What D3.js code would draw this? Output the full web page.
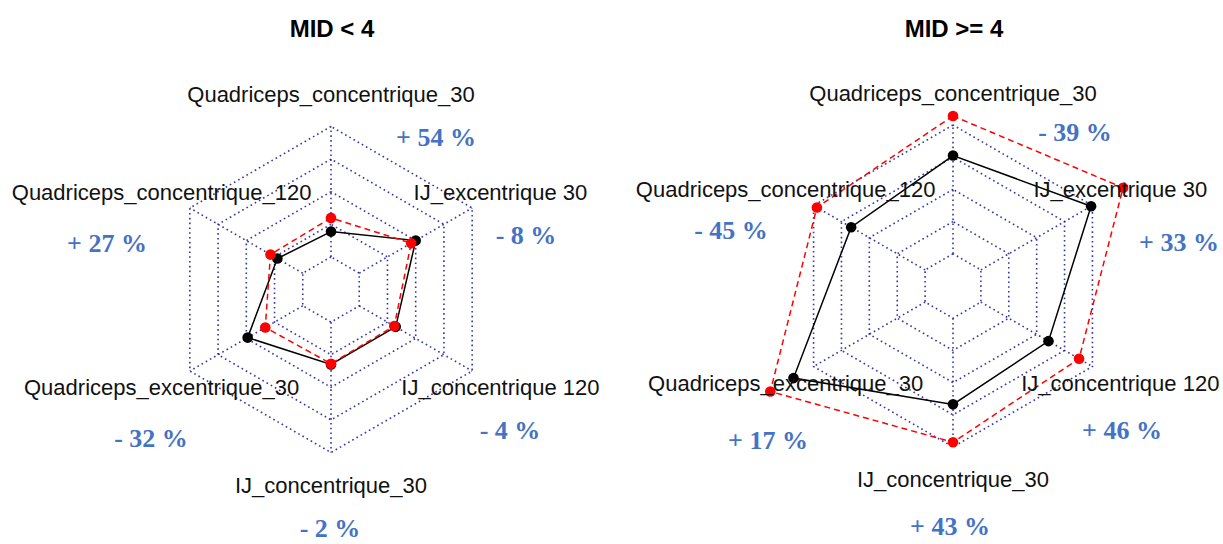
<!DOCTYPE html>
<html>
<head>
<meta charset="utf-8">
<script src="https://cdn.jsdelivr.net/npm/d3@7"></script>
<style>
  html, body { margin: 0; padding: 0; background: #ffffff; }
  svg { display: block; }
</style>
</head>
<body>
<svg id="chart" width="1223" height="544"></svg>
<script>
// ---------------- DATA ----------------
const axisNames = [
  "Quadriceps_concentrique_30",
  "Quadriceps_concentrique_120",
  "Quadriceps_excentrique_30",
  "IJ_concentrique_30",
  "IJ_concentrique 120",
  "IJ_excentrique 30"
];
const panelTitles = ["MID < 4", "MID >= 4"];

// values on the grid scale: 0 = inner ring, 100 = outer ring
const leftBlack  = [19.4, 22.5, 48.8, 32.5, 32.3, 50.0];
const leftRed    = [29.9, 28.6, 33.2, 31.9, 31.0, 46.0];
const rightBlack = [76.3, 66.3, 118.0, 66.9, 60.6, 98.8];
const rightRed   = [107.0, 97.0, 138.8, 96.3, 88.0, 127.5];

const leftPct  = ["+ 54 %", "+ 27 %", "- 32 %", "- 2 %", "- 4 %", "- 8 %"];
const rightPct = ["- 39 %", "- 45 %", "+ 17 %", "+ 43 %", "+ 46 %", "+ 33 %"];

// ---------------- LAYOUT ----------------
const panels = [
  { cx: 331, cy: 289.5, R: 163, titleX: 332, titleY: 28,
    black: leftBlack, red: leftRed, pct: leftPct,
    pctPos: [[436,137],[107,243],[151,438],[330,528],[510,430],[526,235]] },
  { cx: 953, cy: 286, R: 161, titleX: 954, titleY: 28,
    black: rightBlack, red: rightRed, pct: rightPct,
    pctPos: [[1075,132],[731,230],[768,440],[950,526],[1122,430],[1179,242]] }
];

const svg = d3.select("#chart");
const nAx = axisNames.length;
const angle = i => Math.PI / 2 + i * 2 * Math.PI / nAx;
const levels = [0, 25, 50, 75, 100];
const gridColor = "#20209a";

panels.forEach((p, pi) => {
  const g = svg.append("g");
  const r = d3.scaleLinear().domain([0, 100]).range([0.2 * p.R, p.R]);
  const pt = (v, i) => [p.cx + r(v) * Math.cos(angle(i)), p.cy - r(v) * Math.sin(angle(i))];

  // grid rings
  const ringLine = d3.line();
  levels.forEach(lv => {
    const pts = d3.range(nAx).map(i => pt(lv, i));
    pts.push(pts[0]);
    g.append("path")
      .attr("d", ringLine(pts))
      .attr("fill", "none")
      .attr("stroke", gridColor)
      .attr("stroke-opacity", 0.9)
      .attr("stroke-width", 1.6)
      .attr("stroke-dasharray", "1.6,3.2");
  });
  // axis spokes
  d3.range(nAx).forEach(i => {
    const a = pt(0, i), b = pt(100, i);
    g.append("line")
      .attr("x1", a[0]).attr("y1", a[1]).attr("x2", b[0]).attr("y2", b[1])
      .attr("stroke", gridColor)
      .attr("stroke-opacity", 0.9)
      .attr("stroke-width", 1.6)
      .attr("stroke-dasharray", "1.6,3.2");
  });

  // series
  const series = [
    { vals: p.black, color: "#000000", dash: null },
    { vals: p.red, color: "#ff0000", dash: "6,4" }
  ];
  const polyLine = d3.line().curve(d3.curveLinearClosed);
  series.forEach(s => {
    const pts = s.vals.map((v, i) => pt(v, i));
    g.append("path")
      .attr("d", polyLine(pts))
      .attr("fill", "none")
      .attr("stroke", s.color)
      .attr("stroke-width", 1.5)
      .attr("stroke-dasharray", s.dash);
    g.selectAll(null).data(pts).enter().append("circle")
      .attr("cx", d => d[0]).attr("cy", d => d[1])
      .attr("r", 5.3)
      .attr("fill", s.color);
  });

  // axis labels
  d3.range(nAx).forEach(i => {
    const lp = [p.cx + 1.2 * p.R * Math.cos(angle(i)), p.cy - 1.2 * p.R * Math.sin(angle(i))];
    g.append("text")
      .attr("x", lp[0]).attr("y", lp[1])
      .attr("dy", "0.36em")
      .attr("text-anchor", "middle")
      .attr("font-family", "'Liberation Sans', Arial, sans-serif")
      .attr("font-size", 22)
      .attr("fill", "#111111")
      .text(axisNames[i]);
  });

  // percentage annotations
  p.pct.forEach((t, i) => {
    g.append("text")
      .attr("x", p.pctPos[i][0]).attr("y", p.pctPos[i][1])
      .attr("dy", "0.35em")
      .attr("text-anchor", "middle")
      .attr("font-family", "'Liberation Serif', 'Times New Roman', serif")
      .attr("font-weight", "bold")
      .attr("font-size", 26)
      .attr("fill", "#4472c4")
      .text(t);
  });

  // title
  g.append("text")
    .attr("x", p.titleX).attr("y", p.titleY)
    .attr("dy", "0.36em")
    .attr("text-anchor", "middle")
    .attr("font-family", "'Liberation Sans', Arial, sans-serif")
    .attr("font-weight", "bold")
    .attr("font-size", 24)
    .attr("fill", "#000000")
    .text(panelTitles[pi]);
});
</script>
</body>
</html>
